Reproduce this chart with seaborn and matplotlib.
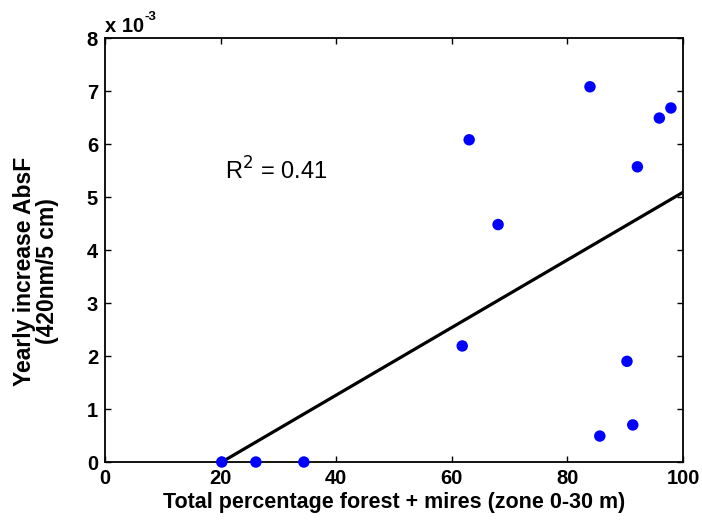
import matplotlib
matplotlib.use("Agg")
import matplotlib.pyplot as plt
import seaborn as sns
import pandas as pd

# Data (y in units of 1e-3)
forest_pct = [20.2, 26.1, 34.4, 61.8, 63.0, 68.0, 83.9, 85.6, 90.3, 91.3, 92.1, 95.9, 97.9]
abs_increase = [0.0, 0.0, 0.0, 2.19, 6.08, 4.48, 7.08, 0.49, 1.90, 0.70, 5.57, 6.49, 6.68]
fit_x = [20.2, 100.0]
fit_y = [0.0, 5.09]
x_ticks = [0, 20, 40, 60, 80, 100]
y_ticks = [0, 1, 2, 3, 4, 5, 6, 7, 8]

sns.set_theme(style="ticks")
plt.rcParams['font.family'] = ['Liberation Sans', 'DejaVu Sans']
plt.rcParams['text.color'] = 'black'
plt.rcParams['axes.labelcolor'] = 'black'
plt.rcParams['xtick.color'] = 'black'
plt.rcParams['ytick.color'] = 'black'

df = pd.DataFrame({"x": forest_pct, "y": abs_increase})
fit = pd.DataFrame({"x": fit_x, "y": fit_y})

fig = plt.figure(figsize=(7.02, 5.23), dpi=100)
ax = fig.add_axes([0.1496, 0.1166, 0.973 - 0.1496, 0.9273 - 0.1166])

sns.lineplot(data=fit, x="x", y="y", ax=ax, color="black", linewidth=2.3, zorder=2)
sns.scatterplot(data=df, x="x", y="y", ax=ax, color="#0000ff", s=68, edgecolor="none",
                zorder=3, clip_on=False)

ax.set_xlim(0, 100)
ax.set_ylim(0, 8)
ax.set_xticks(x_ticks)
ax.set_yticks(y_ticks)
ax.tick_params(direction="in", length=4, width=1, top=True, right=True,
               labelsize=14.5, pad=5)
for lab in ax.get_xticklabels() + ax.get_yticklabels():
    lab.set_fontweight("bold")
for sp in ax.spines.values():
    sp.set_visible(True)
    sp.set_linewidth(1.3)
    sp.set_color("black")

ax.set_xlabel("Total percentage forest + mires (zone 0-30 m)", fontsize=15.5, fontweight="bold", labelpad=3)
ax.set_ylabel("Yearly increase AbsF\n(420nm/5 cm)", fontsize=16.5, fontweight="bold",
              linespacing=1.0)
ax.yaxis.set_label_coords(-0.079, 0.45)

ax.text(0.0, 1.014, "x 10", transform=ax.transAxes, fontsize=14.5,
        fontweight="bold", ha="left", va="baseline")
ax.text(0.069, 1.042, "-3", transform=ax.transAxes, fontsize=9.5,
        fontweight="bold", ha="left", va="baseline")
ax.text(20.8, 5.5, "R$^2$ = 0.41", fontsize=17, ha="left", va="center")

fig.savefig("out.png", dpi=100)
